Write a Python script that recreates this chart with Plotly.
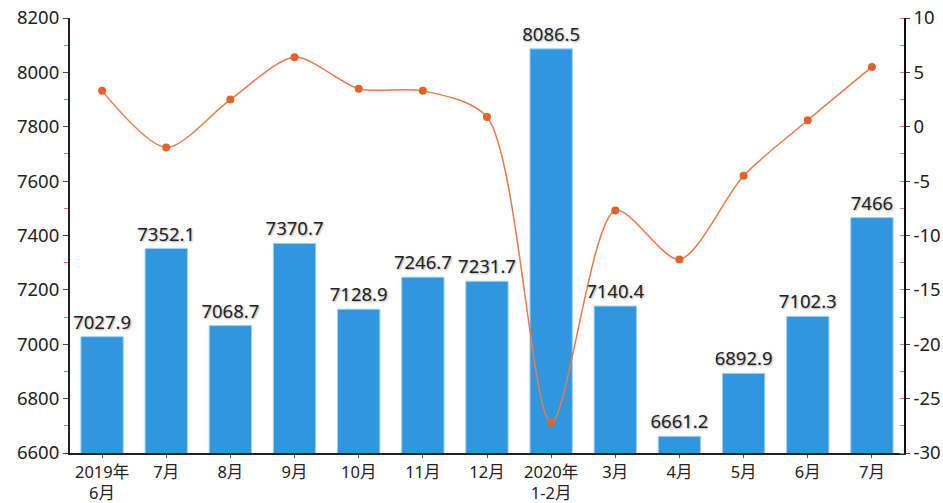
import plotly.graph_objects as go

categories = ["2019年<br>6月", "7月", "8月", "9月", "10月", "11月", "12月",
              "2020年<br>1-2月", "3月", "4月", "5月", "6月", "7月"]
cat_keys = [f"c{i}" for i in range(len(categories))]
bar_values = [7027.9, 7352.1, 7068.7, 7370.7, 7128.9, 7246.7, 7231.7,
              8086.5, 7140.4, 6661.2, 6892.9, 7102.3, 7466]
bar_labels = ["7027.9", "7352.1", "7068.7", "7370.7", "7128.9", "7246.7", "7231.7",
              "8086.5", "7140.4", "6661.2", "6892.9", "7102.3", "7466"]
growth = [3.3, -1.9, 2.5, 6.4, 3.5, 3.3, 0.9, -27.2, -7.7, -12.2, -4.5, 0.6, 5.5]
right_ticks = [10, 5, 0, -5, -10, -15, -20, -25, -30]
right_tick_labels = ["10", "5", "0", "-5", "-10", "-15", "-20", "-25", "-30"]

font_family = "Noto Sans, Noto Sans CJK SC, sans-serif"
fs = 18.5

fig = go.Figure()
fig.add_trace(go.Bar(
    x=cat_keys, y=bar_values, text=bar_labels, textposition="outside",
    constraintext="none",
    textfont=dict(size=fs, color="#222", family=font_family, shadow="1px 1px 2px #aaa"),
    marker=dict(color="#3097df", line=dict(width=1, color="#9fd0f5")),
    cliponaxis=False, yaxis="y", showlegend=False,
))
fig.add_trace(go.Scatter(
    x=cat_keys, y=growth, mode="lines+markers",
    line=dict(shape="spline", color="#ec7a45", width=1.5, smoothing=0.8),
    marker=dict(size=8, color="#e2632a"),
    yaxis="y2", showlegend=False,
))

fig.update_layout(
    width=943, height=503,
    margin=dict(l=70, r=39, t=18, b=50, autoexpand=False),
    plot_bgcolor="white", paper_bgcolor="white",
    font=dict(family=font_family, size=fs, color="#222"),
    bargap=0.34,
    xaxis=dict(
        tickmode="array", tickvals=cat_keys, ticktext=categories,
        range=[-0.5, len(cat_keys) - 0.5],
        showline=True, linecolor="#222", linewidth=2,
        ticks="outside", ticklen=3, tickcolor="#555",
        showgrid=False, tickfont=dict(size=16.5), automargin=False,
    ),
    yaxis=dict(
        range=[6600, 8200], dtick=200, showgrid=False, zeroline=False,
        showline=True, linecolor="#222", linewidth=2,
        ticks="outside", ticklen=5, tickcolor="#444",
        minor=dict(dtick=100, ticks="outside", ticklen=4, tickcolor="#f07070"),
        tickfont=dict(size=fs), automargin=False, ticklabeloverflow="allow",
    ),
    yaxis2=dict(
        range=[-30, 10], tickmode="array", tickvals=right_ticks,
        ticktext=right_tick_labels, overlaying="y", side="right",
        showgrid=False, zeroline=False,
        showline=True, linecolor="#111", linewidth=1.5,
        ticks="outside", ticklen=4, tickcolor="#444",
        minor=dict(dtick=2.5, ticks="inside", ticklen=4, tickcolor="#f07070"),
        tickfont=dict(size=fs), automargin=False, ticklabeloverflow="allow",
    ),
)

fig.write_html(
    "out.html",
    config={"displayModeBar": False},
    post_script="document.body.style.margin='0';document.body.style.overflow='hidden';",
)
